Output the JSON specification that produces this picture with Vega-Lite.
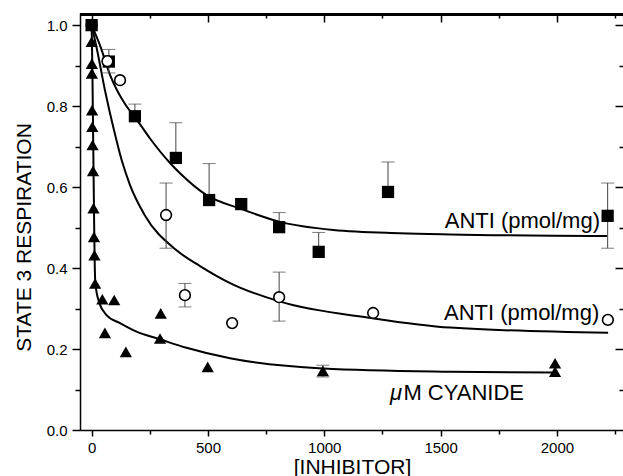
{
  "$schema": "https://vega.github.io/schema/vega-lite/v6.json",
  "width": 543,
  "height": 417,
  "autosize": {"type": "none"},
  "padding": {"left": 80, "top": 13, "right": 0, "bottom": 46},
  "background": "white",
  "config": {
    "view": {"stroke": null},
    "axis": {
      "grid": false,
      "labelFont": "Liberation Sans",
      "labelFontSize": 15,
      "labelColor": "black",
      "titleFont": "Liberation Sans",
      "titleFontSize": 21,
      "titleFontWeight": "normal",
      "titleColor": "black",
      "domainColor": "black",
      "tickColor": "black",
      "domainWidth": 1.5,
      "tickWidth": 1.5
    }
  },
  "datasets": {
    "curves": [
      {"s": "upper", "x": 0, "y": 1.0},
      {"s": "upper", "x": 36, "y": 0.95},
      {"s": "upper", "x": 79, "y": 0.877},
      {"s": "upper", "x": 147, "y": 0.802},
      {"s": "upper", "x": 186, "y": 0.773},
      {"s": "upper", "x": 251, "y": 0.72},
      {"s": "upper", "x": 336, "y": 0.66},
      {"s": "upper", "x": 380, "y": 0.634},
      {"s": "upper", "x": 494, "y": 0.58},
      {"s": "upper", "x": 638, "y": 0.547},
      {"s": "upper", "x": 810, "y": 0.514},
      {"s": "upper", "x": 1039, "y": 0.494},
      {"s": "upper", "x": 1325, "y": 0.486},
      {"s": "upper", "x": 1541, "y": 0.483},
      {"s": "upper", "x": 2215, "y": 0.479},
      {"s": "middle", "x": 0, "y": 1.0},
      {"s": "middle", "x": 23, "y": 0.94},
      {"s": "middle", "x": 57, "y": 0.84},
      {"s": "middle", "x": 96, "y": 0.741},
      {"s": "middle", "x": 130, "y": 0.665},
      {"s": "middle", "x": 165, "y": 0.605},
      {"s": "middle", "x": 229, "y": 0.53},
      {"s": "middle", "x": 365, "y": 0.444},
      {"s": "middle", "x": 466, "y": 0.405},
      {"s": "middle", "x": 595, "y": 0.363},
      {"s": "middle", "x": 810, "y": 0.317},
      {"s": "middle", "x": 1209, "y": 0.276},
      {"s": "middle", "x": 1541, "y": 0.253},
      {"s": "middle", "x": 2220, "y": 0.24},
      {"s": "lower", "x": 0, "y": 1.0},
      {"s": "lower", "x": 3, "y": 0.9},
      {"s": "lower", "x": 5, "y": 0.8},
      {"s": "lower", "x": 7, "y": 0.7},
      {"s": "lower", "x": 9, "y": 0.6},
      {"s": "lower", "x": 11, "y": 0.5},
      {"s": "lower", "x": 13, "y": 0.42},
      {"s": "lower", "x": 16, "y": 0.363},
      {"s": "lower", "x": 33, "y": 0.314},
      {"s": "lower", "x": 64, "y": 0.284},
      {"s": "lower", "x": 122, "y": 0.264},
      {"s": "lower", "x": 193, "y": 0.243},
      {"s": "lower", "x": 294, "y": 0.224},
      {"s": "lower", "x": 408, "y": 0.203},
      {"s": "lower", "x": 595, "y": 0.177},
      {"s": "lower", "x": 994, "y": 0.152},
      {"s": "lower", "x": 1540, "y": 0.144},
      {"s": "lower", "x": 1983, "y": 0.142}
    ],
    "points": [
      {"s": "sq", "x": 0, "y": 1.0},
      {"s": "sq", "x": 74, "y": 0.91},
      {"s": "sq", "x": 186, "y": 0.775},
      {"s": "sq", "x": 362, "y": 0.672},
      {"s": "sq", "x": 505, "y": 0.568},
      {"s": "sq", "x": 643, "y": 0.558},
      {"s": "sq", "x": 806, "y": 0.501},
      {"s": "sq", "x": 976, "y": 0.44},
      {"s": "sq", "x": 1274, "y": 0.588},
      {"s": "sq", "x": 2218, "y": 0.529},
      {"s": "ci", "x": 0, "y": 1.0},
      {"s": "ci", "x": 68, "y": 0.911},
      {"s": "ci", "x": 122, "y": 0.864},
      {"s": "ci", "x": 320, "y": 0.531},
      {"s": "ci", "x": 401, "y": 0.333},
      {"s": "ci", "x": 604, "y": 0.264},
      {"s": "ci", "x": 806, "y": 0.328},
      {"s": "ci", "x": 1210, "y": 0.289},
      {"s": "ci", "x": 2219, "y": 0.272},
      {"s": "tr", "x": 0, "y": 1.0},
      {"s": "tr", "x": 0, "y": 0.959},
      {"s": "tr", "x": 1, "y": 0.905},
      {"s": "tr", "x": 1, "y": 0.881},
      {"s": "tr", "x": 2, "y": 0.79},
      {"s": "tr", "x": 3, "y": 0.749},
      {"s": "tr", "x": 4, "y": 0.704},
      {"s": "tr", "x": 6, "y": 0.64},
      {"s": "tr", "x": 8, "y": 0.548},
      {"s": "tr", "x": 10, "y": 0.477},
      {"s": "tr", "x": 12, "y": 0.432},
      {"s": "tr", "x": 15, "y": 0.362},
      {"s": "tr", "x": 46, "y": 0.323},
      {"s": "tr", "x": 97, "y": 0.321},
      {"s": "tr", "x": 57, "y": 0.24},
      {"s": "tr", "x": 147, "y": 0.193},
      {"s": "tr", "x": 297, "y": 0.288},
      {"s": "tr", "x": 294, "y": 0.226},
      {"s": "tr", "x": 499, "y": 0.156},
      {"s": "tr", "x": 994, "y": 0.146},
      {"s": "tr", "x": 1992, "y": 0.165},
      {"s": "tr", "x": 1992, "y": 0.144}
    ],
    "errs": [
      {"x": 74, "lo": 0.882, "hi": 0.94, "both": true},
      {"x": 186, "lo": 0.775, "hi": 0.805, "both": false},
      {"x": 362, "lo": 0.672, "hi": 0.759, "both": false},
      {"x": 505, "lo": 0.568, "hi": 0.658, "both": false},
      {"x": 806, "lo": 0.501, "hi": 0.537, "both": false},
      {"x": 976, "lo": 0.44, "hi": 0.488, "both": false},
      {"x": 1274, "lo": 0.588, "hi": 0.662, "both": false},
      {"x": 2218, "lo": 0.449, "hi": 0.61, "both": true},
      {"x": 320, "lo": 0.449, "hi": 0.61, "both": true},
      {"x": 401, "lo": 0.304, "hi": 0.362, "both": true},
      {"x": 806, "lo": 0.269, "hi": 0.39, "both": true},
      {"x": 994, "lo": 0.131, "hi": 0.16, "both": true}
    ],
    "labels": [
      {"t": "ANTI (pmol/mg)", "x": 2185, "y": 0.499},
      {"t": "ANTI (pmol/mg)", "x": 2182, "y": 0.272}
    ],
    "one": [{}]
  },
  "layer": [
    {
      "data": {"name": "one"},
      "mark": {"type": "rule", "color": "black", "strokeWidth": 3},
      "encoding": {
        "x": {"datum": -50, "type": "quantitative", "axis": null},
        "x2": {"datum": 2284},
        "y": {"datum": 1.026, "type": "quantitative", "axis": null}
      }
    },
    {
      "data": {"name": "curves"},
      "mark": {"type": "line", "color": "black", "strokeWidth": 2, "interpolate": "monotone"},
      "encoding": {
        "x": {"field": "x", "type": "quantitative",
          "scale": {"domain": [-50, 2284], "nice": false, "zero": false},
          "axis": {"orient": "bottom", "values": [0, 500, 1000, 1500, 2000], "format": "d", "tickSize": 6, "labelPadding": 4,
            "title": "[INHIBITOR]", "titleX": 272, "titleY": 43, "titleBaseline": "alphabetic", "titleAlign": "center"}},
        "y": {"field": "y", "type": "quantitative",
          "scale": {"domain": [0, 1.03], "nice": false, "zero": false},
          "axis": {"orient": "left", "values": [0, 0.2, 0.4, 0.6, 0.8, 1.0], "format": ".1f", "tickSize": 8, "labelPadding": 5,
            "title": "STATE 3 RESPIRATION", "titleX": -56, "titleY": 224, "titleAngle": -90, "titleBaseline": "middle", "titleAlign": "center"}},
        "detail": {"field": "s"}
      }
    },
    {
      "data": {"name": "errs"},
      "mark": {"type": "rule", "color": "#444", "strokeWidth": 1},
      "encoding": {
        "x": {"field": "x", "type": "quantitative",
          "axis": {"orient": "bottom", "values": [250, 750, 1250, 1750, 2250], "labels": false, "domain": false, "tickSize": 4, "title": null}},
        "y": {"field": "lo", "type": "quantitative",
          "axis": {"orient": "left", "values": [0.1, 0.3, 0.5, 0.7, 0.9], "labels": false, "domain": false, "tickSize": 5, "title": null}},
        "y2": {"field": "hi"}
      }
    },
    {
      "data": {"name": "errs"},
      "mark": {"type": "tick", "orient": "horizontal", "color": "#444", "size": 13, "thickness": 1},
      "encoding": {
        "x": {"field": "x", "type": "quantitative",
          "axis": {"orient": "top", "values": [0, 500, 1000, 1500, 2000], "labels": false, "domain": false, "offset": -9, "tickSize": 8, "title": null}},
        "y": {"field": "hi", "type": "quantitative",
          "axis": {"orient": "right", "values": [0.2, 0.4, 0.6, 0.8, 1.0], "labels": false, "domain": false, "offset": -8, "tickSize": 8, "title": null}}
      }
    },
    {
      "data": {"name": "errs"},
      "transform": [{"filter": "datum.both"}],
      "mark": {"type": "tick", "orient": "horizontal", "color": "#444", "size": 13, "thickness": 1},
      "encoding": {
        "x": {"field": "x", "type": "quantitative",
          "axis": {"orient": "top", "values": [250, 750, 1250, 1750, 2250], "labels": false, "domain": false, "offset": -5, "tickSize": 4, "title": null}},
        "y": {"field": "lo", "type": "quantitative",
          "axis": {"orient": "right", "values": [0.1, 0.3, 0.5, 0.7, 0.9], "labels": false, "domain": false, "offset": -4, "tickSize": 4, "title": null}}
      }
    },
    {
      "data": {"name": "points"},
      "transform": [{"filter": "datum.s === 'ci' && datum.x === 0"}],
      "mark": {"type": "point", "shape": "circle", "filled": false, "fill": "white", "fillOpacity": 1, "stroke": "black", "strokeWidth": 1.6, "size": 115, "opacity": 1},
      "encoding": {
        "x": {"field": "x", "type": "quantitative", "axis": null},
        "y": {"field": "y", "type": "quantitative", "axis": null}
      }
    },
    {
      "data": {"name": "points"},
      "transform": [{"filter": "datum.s === 'sq'"}],
      "mark": {"type": "point", "shape": "square", "filled": true, "color": "black", "size": 150, "opacity": 1},
      "encoding": {
        "x": {"field": "x", "type": "quantitative", "axis": null},
        "y": {"field": "y", "type": "quantitative", "axis": null}
      }
    },
    {
      "data": {"name": "points"},
      "transform": [{"filter": "datum.s === 'ci' && datum.x > 0"}],
      "mark": {"type": "point", "shape": "circle", "filled": false, "fill": "white", "fillOpacity": 1, "stroke": "black", "strokeWidth": 1.6, "size": 115, "opacity": 1},
      "encoding": {
        "x": {"field": "x", "type": "quantitative", "axis": null},
        "y": {"field": "y", "type": "quantitative", "axis": null}
      }
    },
    {
      "data": {"name": "points"},
      "transform": [{"filter": "datum.s === 'tr'"}],
      "mark": {"type": "point", "shape": "triangle-up", "filled": true, "color": "black", "size": 150, "opacity": 1},
      "encoding": {
        "x": {"field": "x", "type": "quantitative", "axis": null},
        "y": {"field": "y", "type": "quantitative", "axis": null}
      }
    },
    {
      "data": {"name": "labels"},
      "mark": {"type": "text", "font": "Liberation Sans", "fontSize": 22, "align": "right", "baseline": "alphabetic", "color": "black"},
      "encoding": {
        "x": {"field": "x", "type": "quantitative", "axis": null},
        "y": {"field": "y", "type": "quantitative", "axis": null},
        "text": {"field": "t"}
      }
    },
    {
      "data": {"name": "one"},
      "mark": {"type": "text", "text": "μ", "font": "Liberation Sans", "fontSize": 22, "fontStyle": "italic", "align": "right", "baseline": "alphabetic", "color": "black"},
      "encoding": {
        "x": {"datum": 1334, "type": "quantitative", "axis": null},
        "y": {"datum": 0.074, "type": "quantitative", "axis": null}
      }
    },
    {
      "data": {"name": "one"},
      "mark": {"type": "text", "text": "M CYANIDE", "font": "Liberation Sans", "fontSize": 22, "align": "left", "baseline": "alphabetic", "color": "black"},
      "encoding": {
        "x": {"datum": 1340, "type": "quantitative", "axis": null},
        "y": {"datum": 0.074, "type": "quantitative", "axis": null}
      }
    }
  ],
  "resolve": {"axis": {"x": "independent", "y": "independent"}}
}
